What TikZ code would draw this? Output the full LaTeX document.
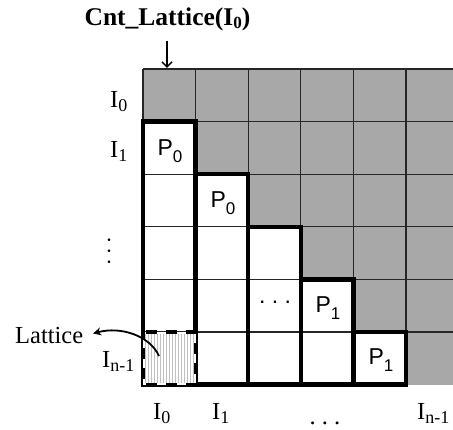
\documentclass[tikz,border=0pt]{standalone}
\usepackage{fontspec}
\setmainfont{Liberation Serif}
\newfontfamily\arialf{Liberation Sans}
\usetikzlibrary{arrows.meta}
\definecolor{cellgray}{RGB}{168,168,168}
\newcommand\Isub[1]{I\raisebox{-4pt}{\fontsize{18}{18}\selectfont #1}}
\newcommand\Psub[1]{P\raisebox{-7pt}{\fontsize{17}{17}\selectfont #1}}
\begin{document}
\begin{tikzpicture}[x=1pt,y=-1pt,
  gridline/.style={line width=1.2pt, draw=black!85},
  blockbox/.style={line width=4.3pt, draw=black, line join=miter},
  lbl/.style={inner sep=0, font=\fontsize{24.5}{24.5}\selectfont},
  plbl/.style={inner sep=0, font=\arialf\fontsize{23}{23}\selectfont},
  stripe/.style={draw=black!25, line width=0.9pt},
  hatchborder/.style={line width=3.8pt, draw=black, dash pattern=on 11pt off 9pt, dash phase=4pt},
  arr/.style={line width=1.5pt}
]
\useasboundingbox (0,0) rectangle (453,430);
\begin{scope}
\clip (0,0) rectangle (453,430);
% gray background of grid
\fill[cellgray] (143,69) rectangle (470,384.6);
% white staircase blocks
\foreach \c in {0,...,4}{
  \fill[white] ({143+52.6*\c},{69+52.6*(\c+1)}) rectangle ({143+52.6*(\c+1)},384.6);
}
% thin grid
\foreach \c in {0,...,6}{
  \draw[gridline] ({143+52.6*\c},69) -- ({143+52.6*\c},384.6);
}
\foreach \r in {0,...,5}{
  \draw[gridline] (143,{69+52.6*\r}) -- (470,{69+52.6*\r});
}
\draw[gridline] (143,384.6) -- (406,384.6);
% thick blocks
\foreach \c in {0,...,4}{
  \draw[blockbox] ({143+52.6*\c},{69+52.6*(\c+1)}) rectangle ({143+52.6*(\c+1)},384.6);
}
\end{scope}
% hatched lattice cell
\fill[white] (143,332) rectangle (195.6,384.6);
\foreach \k in {0,...,16}{
  \draw[stripe] ({145.5+\k*3},334) -- ({145.5+\k*3},383);
}
\draw[hatchborder] (143,332) rectangle (195.6,384.6);
% cell labels
\node[plbl, anchor=base] (pa) at (170,156) {\Psub{0}};
\node[plbl, anchor=base] (pb) at (223,208) {\Psub{0}};
\node[plbl, anchor=base] (dd) at (275,303.5) {.\ .\ .};
\node[plbl, anchor=base] (pc) at (328,312.5) {\Psub{1}};
\node[plbl, anchor=base] (pd) at (381,365) {\Psub{1}};
% row labels
\node[lbl, anchor=base west] (r0) at (110,108) {\Isub{0}};
\node[lbl, anchor=base west] (r1) at (110,158) {\Isub{1}};
\node[lbl, rotate=-90, font=\fontsize{22}{22}\selectfont] (rv) at (109,251) {.\ .\ .};
\node[lbl, anchor=base west] (rn) at (102,368) {\Isub{n-1}};
% column labels
\node[lbl, anchor=base west] (c0) at (153,420) {\Isub{0}};
\node[lbl, anchor=base west] (c1) at (212,420) {\Isub{1}};
\node[lbl, anchor=base] (cd) at (325,425) {.\ .\ .};
\node[lbl, anchor=base west] (cn) at (417,420) {\Isub{n-1}};
% top label and arrow
\node[lbl, anchor=base, font=\bfseries\fontsize{25.5}{25.5}\selectfont] (cnt) at (167.5,26) {Cnt\_Lattice(I\raisebox{-3pt}{\fontsize{17}{17}\selectfont 0})};
\coordinate (gtop) at (167,68);
\draw[arr, -{Straight Barb[length=5pt,width=10pt]}, shorten <=9pt] (cnt.south -| gtop) -- (gtop);
% lattice label and arrow
\node[lbl, anchor=base west] (lat) at (15,344) {Lattice};
\coordinate (hs) at (159,356);
\draw[line width=1.8pt, -{Stealth[length=8pt,width=8pt]}, shorten >=10pt] (hs) .. controls +(-9,-20) and +(38,-10) .. (lat.east);
\end{tikzpicture}
\end{document}
